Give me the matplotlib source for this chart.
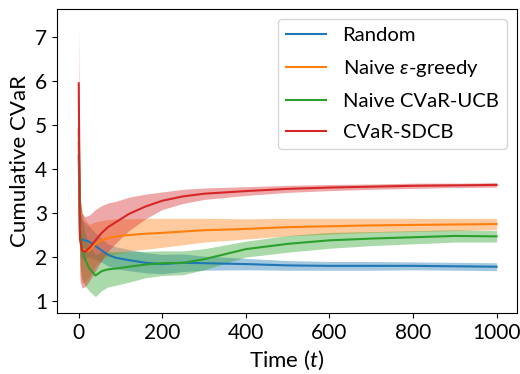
import numpy as np
import matplotlib
matplotlib.use('Agg')
import matplotlib.pyplot as plt

plt.rcParams['font.family'] = ['Lato', 'DejaVu Sans']
plt.rcParams['mathtext.fontset'] = 'custom'
plt.rcParams['mathtext.rm'] = 'Lato'
plt.rcParams['mathtext.it'] = 'Lato:italic'

t = [0, 3, 8, 15, 25, 40, 55, 70, 90, 120, 160, 200, 250, 300, 400, 500, 600, 700, 800, 900, 1000]

random_mean = [4.3, 2.5, 2.4, 2.38, 2.35, 2.25, 2.15, 2.05, 1.98, 1.93, 1.87, 1.84, 1.87, 1.86, 1.84, 1.81, 1.80, 1.80, 1.80, 1.79, 1.78]
random_std = [1.2, 0.5, 0.45, 0.4, 0.35, 0.3, 0.27, 0.25, 0.25, 0.24, 0.23, 0.22, 0.2, 0.16, 0.13, 0.11, 0.1, 0.1, 0.09, 0.09, 0.09]

greedy_mean = [4.6, 2.5, 2.2, 2.15, 2.14, 2.3, 2.38, 2.43, 2.47, 2.5, 2.53, 2.55, 2.58, 2.61, 2.64, 2.68, 2.7, 2.72, 2.73, 2.74, 2.75]
greedy_std = [1.3, 0.9, 0.8, 0.7, 0.6, 0.5, 0.45, 0.42, 0.4, 0.37, 0.35, 0.33, 0.3, 0.27, 0.23, 0.2, 0.18, 0.16, 0.15, 0.14, 0.13]

ucb_mean = [4.9, 2.6, 2.2, 1.95, 1.75, 1.58, 1.68, 1.72, 1.74, 1.78, 1.83, 1.86, 1.87, 1.95, 2.18, 2.3, 2.38, 2.42, 2.45, 2.48, 2.47]
ucb_std = [1.3, 0.8, 0.7, 0.6, 0.52, 0.48, 0.44, 0.4, 0.38, 0.35, 0.3, 0.28, 0.27, 0.24, 0.18, 0.19, 0.18, 0.16, 0.15, 0.14, 0.13]

sdcb_mean = [5.95, 2.4, 2.15, 2.12, 2.2, 2.38, 2.55, 2.68, 2.8, 2.98, 3.15, 3.28, 3.38, 3.44, 3.5, 3.55, 3.58, 3.6, 3.62, 3.63, 3.64]
sdcb_std = [1.35, 0.95, 0.85, 0.8, 0.75, 0.7, 0.62, 0.55, 0.47, 0.38, 0.28, 0.2, 0.16, 0.13, 0.1, 0.08, 0.07, 0.06, 0.06, 0.05, 0.05]

labels = ['Random', r'Naive $\varepsilon$-greedy', 'Naive CVaR-UCB', 'CVaR-SDCB']
series = [(random_mean, random_std), (greedy_mean, greedy_std),
          (ucb_mean, ucb_std), (sdcb_mean, sdcb_std)]
colors = ['C0', 'C1', 'C2', 'C3']

fig = plt.figure(figsize=(5.2, 3.74), dpi=100)
ax = fig.add_axes([0.1096, 0.163, 0.884, 0.813])

x = np.array(t)
for (m, s), lab, c in zip(series, labels, colors):
    m = np.array(m)
    s = np.array(s)
    ax.plot(x, m, color=c, lw=1.5, label=lab)
    ax.fill_between(x, m - s, m + s, color=c, alpha=0.4, lw=0)

ax.set_xlim(-52, 1048)
ax.set_ylim(0.727, 7.64)
ax.set_xticks([0, 200, 400, 600, 800, 1000])
ax.set_yticks([1, 2, 3, 4, 5, 6, 7])
ax.tick_params(labelsize=15)
ax.set_xlabel(r'Time ($t$)', fontsize=16)
ax.set_ylabel('Cumulative CVaR', fontsize=16)
ax.legend(loc='upper right', fontsize=14.6, labelspacing=0.68)

fig.savefig('out.png', dpi=100)
